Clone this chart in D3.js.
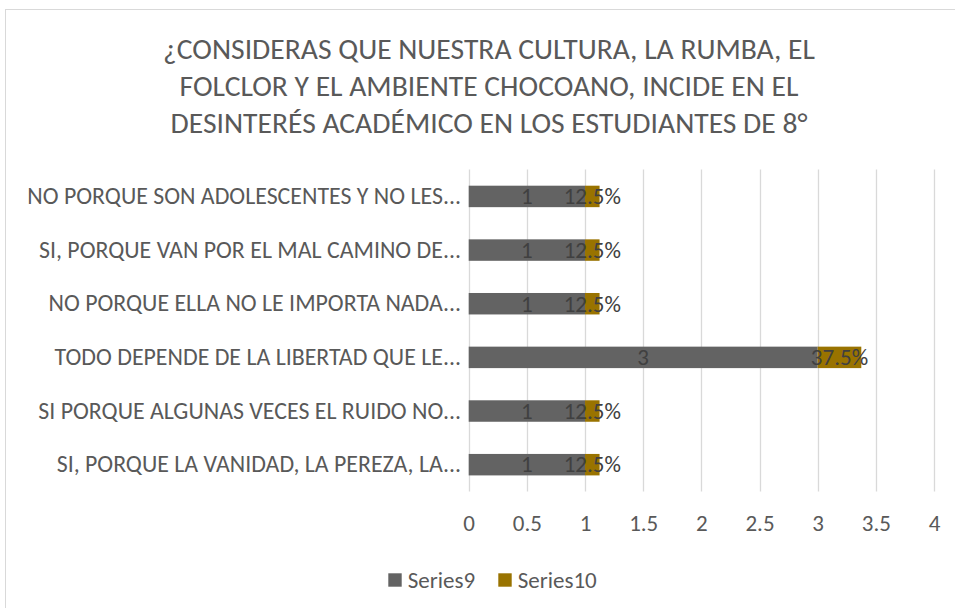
<!DOCTYPE html>
<html>
<head>
<meta charset="utf-8">
<script src="https://cdn.jsdelivr.net/npm/d3@7"></script>
<style>
  html, body { margin: 0; padding: 0; background: #fff; }
  svg { display: block; }
  text { font-family: Carlito, Calibri, "Open Sans", sans-serif; }
</style>
</head>
<body>
<svg id="chart" width="955" height="608"></svg>
<script>
const titleLines = [
  "¿CONSIDERAS QUE NUESTRA CULTURA, LA RUMBA, EL",
  "FOLCLOR Y EL AMBIENTE CHOCOANO, INCIDE EN EL",
  "DESINTERÉS ACADÉMICO EN LOS ESTUDIANTES DE 8°"
];
const categories = [
  "NO PORQUE SON ADOLESCENTES Y NO LES...",
  "SI, PORQUE VAN POR EL MAL CAMINO DE...",
  "NO PORQUE ELLA NO LE IMPORTA NADA...",
  "TODO DEPENDE DE LA LIBERTAD QUE LE...",
  "SI PORQUE ALGUNAS VECES EL RUIDO NO...",
  "SI, PORQUE LA VANIDAD, LA PEREZA, LA..."
];
const series9 = [1, 1, 1, 3, 1, 1];
const series10 = [0.125, 0.125, 0.125, 0.375, 0.125, 0.125];
const seriesNames = ["Series9", "Series10"];
const xTicks = [0, 0.5, 1, 1.5, 2, 2.5, 3, 3.5, 4];

const colors = ["#636363", "#997300"];
const FONT = 'Carlito, Calibri, "Open Sans", sans-serif';
const svg = d3.select("#chart");

// chart border
svg.append("rect").attr("x", 5.5).attr("y", 9.5).attr("width", 960).attr("height", 610)
  .attr("fill", "none").attr("stroke", "#d9d9d9").attr("stroke-width", 1);

const x = d3.scaleLinear().domain([0, 4]).range([468.7, 934]);
const y = d3.scaleBand().domain(categories).range([169.6, 491.5]).paddingInner(0.6).paddingOuter(0.3);

// title
const title = svg.append("g");
titleLines.forEach((t, i) => {
  title.append("text").attr("x", 489).attr("y", 59 + i * 37)
    .attr("text-anchor", "middle").attr("fill", "#595959")
    .attr("font-size", 24).text(t);
});
{
  const nodes = title.selectAll("text").nodes();
  const w = nodes[0].getComputedTextLength();
  title.selectAll("text").attr("font-size", 24 * 652 / w);
}

// gridlines
svg.append("g").selectAll("line").data(xTicks).join("line")
  .attr("x1", d => Math.round(x(d)) + 0.5).attr("x2", d => Math.round(x(d)) + 0.5)
  .attr("y1", 169.6).attr("y2", 491.5)
  .attr("stroke", "#d9d9d9").attr("stroke-width", 1.3);

// x axis labels
const xAxis = d3.axisBottom(x).tickValues(xTicks).tickSize(0).tickPadding(0).tickFormat(d3.format("~g"));
const gx = svg.append("g").attr("transform", "translate(0,523)").call(xAxis);
gx.select(".domain").remove();
gx.selectAll("text").attr("fill", "#595959").attr("font-size", 23).attr("dy", "0.33em")
  .style("font-family", FONT);

// y axis labels
const yAxis = d3.axisLeft(y).tickSize(0).tickPadding(0);
const gy = svg.append("g").attr("transform", "translate(461,0)").call(yAxis);
gy.select(".domain").remove();
gy.selectAll("text").attr("fill", "#595959").attr("font-size", 18)
  .style("font-family", FONT);
{
  const nodes = gy.selectAll("text").nodes();
  const w = nodes[0].getComputedTextLength();
  gy.selectAll("text").attr("font-size", 18 * 434 / w);
}

// bars
const rows = categories.map((c, i) => ({ c, a: series9[i], b: series10[i] }));
const bars = svg.append("g");
bars.selectAll("rect.s9").data(rows).join("rect").attr("class", "s9")
  .attr("x", x(0)).attr("y", d => y(d.c)).attr("height", y.bandwidth())
  .attr("width", d => x(d.a) - x(0)).attr("fill", colors[0]);
bars.selectAll("rect.s10").data(rows).join("rect").attr("class", "s10")
  .attr("x", d => x(d.a)).attr("y", d => y(d.c)).attr("height", y.bandwidth())
  .attr("width", d => x(d.a + d.b) - x(d.a)).attr("fill", colors[1]);

// data labels
const labels = svg.append("g").attr("fill", "#404040").attr("font-size", 23).attr("text-anchor", "middle");
labels.selectAll("text.l9").data(rows).join("text").attr("class", "l9")
  .attr("x", d => x(d.a / 2)).attr("y", d => y(d.c) + y.bandwidth() / 2).attr("dy", "0.34em")
  .text(d => d3.format("~g")(d.a));
labels.selectAll("text.l10").data(rows).join("text").attr("class", "l10")
  .attr("x", d => x(d.a + d.b / 2)).attr("y", d => y(d.c) + y.bandwidth() / 2).attr("dy", "0.34em")
  .text(d => d3.format(".1%")(d.b));

// legend
const legend = svg.append("g");
const legX = [388.3, 498.3];
seriesNames.forEach((n, i) => {
  legend.append("rect").attr("x", legX[i]).attr("y", 573.3).attr("width", 13.4).attr("height", 13.4).attr("fill", colors[i]);
  legend.append("text").attr("x", legX[i] + 19.4).attr("y", 580).attr("dy", "0.34em")
    .attr("fill", "#595959").attr("font-size", 23).text(n);
});
</script>
</body>
</html>
